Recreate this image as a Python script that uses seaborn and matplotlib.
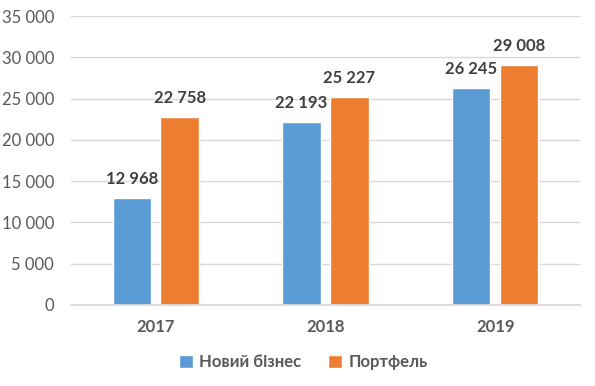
import matplotlib
matplotlib.use("Agg")
import matplotlib.pyplot as plt
import seaborn as sns
import pandas as pd

years = ["2017", "2018", "2019"]
new_business = [12968, 22193, 26245]
portfolio = [22758, 25227, 29008]
series_names = ["Новий бізнес", "Портфель"]
colors = ["#5B9BD5", "#ED7D31"]

df = pd.DataFrame({
    "year": years * 2,
    "value": new_business + portfolio,
    "series": [series_names[0]] * 3 + [series_names[1]] * 3,
})

sns.set_theme(style="white")
plt.rcParams["font.family"] = ["Lato", "DejaVu Sans"]

fig = plt.figure(figsize=(5.95, 3.86), dpi=100)
ax = fig.add_axes([0.119, 0.21, 0.856, 0.7485])

sns.barplot(data=df, x="year", y="value", hue="series", palette=colors,
            saturation=1, width=0.565, gap=0.2, ax=ax, legend=True)

def fmt(v):
    return f"{int(v):,}".replace(",", " ")

for cont in ax.containers:
    ax.bar_label(cont, labels=[fmt(v) for v in cont.datavalues], padding=8,
                 fontsize=12, fontweight="bold", color="#404040")

ax.set_ylim(0, 35000)
ax.set_yticks(range(0, 35001, 5000))
ax.set_yticklabels([fmt(v) for v in range(0, 35001, 5000)])
ax.set_xlim(-0.5, 2.5)
ax.grid(axis="y", color="#D9D9D9", linewidth=1)
ax.set_axisbelow(True)
for s in ["top", "right", "left"]:
    ax.spines[s].set_visible(False)
ax.spines["bottom"].set_color("#D9D9D9")
ax.tick_params(axis="y", labelsize=12, labelcolor="#595959", length=0, pad=12)
ax.tick_params(axis="x", labelsize=12, labelcolor="#595959", length=0, pad=10)
for t in ax.get_xticklabels():
    t.set_fontweight("bold")
ax.set_xlabel("")
ax.set_ylabel("")

handles, labels = ax.get_legend_handles_labels()
ax.legend_.remove()
leg = fig.legend(handles, labels, loc="center", bbox_to_anchor=(0.51, 0.062),
                 ncol=2, frameon=False, handlelength=0.8, handleheight=0.8,
                 handletextpad=0.4, columnspacing=1.6,
                 prop={"size": 12, "weight": "bold"})
for t in leg.get_texts():
    t.set_color("#595959")

fig.savefig("out.png", dpi=100)
